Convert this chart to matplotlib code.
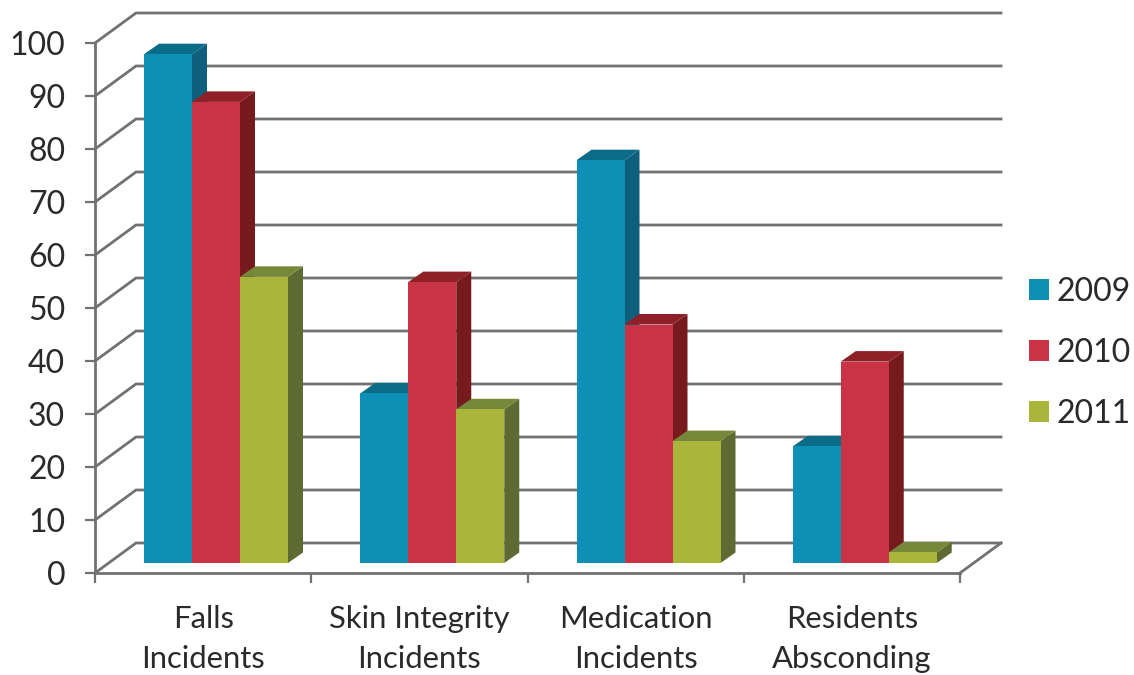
import matplotlib
matplotlib.use("Agg")
import matplotlib.pyplot as plt
from matplotlib.patches import Polygon, Patch

categories = ["Falls\nIncidents", "Skin Integrity\nIncidents", "Medication\nIncidents", "Residents\nAbsconding"]
series_names = ["2009", "2010", "2011"]
values_2009 = [96, 32, 76, 22]
values_2010 = [87, 53, 45, 38]
values_2011 = [54, 29, 23, 2]
y_ticks = list(range(0, 101, 10))

front_colors = ["#0E8FB5", "#C83345", "#AAB53C"]
top_colors = ["#0B6C88", "#8F2027", "#76883A"]
side_colors = ["#0F5F7C", "#761A1E", "#5F6A33"]
grid_color = "#717171"
text_color = "#2A2A2A"

W, H = 1134, 675
X0, X1, Y0, Y100 = 95, 960, 573, 43

plt.rcParams["font.family"] = ["Lato", "DejaVu Sans"]
fig = plt.figure(figsize=(W / 100, H / 100), dpi=100)
ax = fig.add_axes([X0 / W, 1 - Y0 / H, (X1 - X0) / W, (Y0 - Y100) / H])
ax.set_xlim(0, 4)
ax.set_ylim(0, 100)

# Pixel sizes expressed in data units for the oblique 3D projection
px_x = 4 / (X1 - X0)
px_y = 100 / (Y0 - Y100)
wall_dx, wall_dy = 41 * px_x, 30 * px_y
bar_dx, bar_dy = 15 * px_x, 10.5 * px_y
base_dx, base_dy = 49 * px_x, 10 * px_y
bar_w = 48 * px_x

# Back wall gridlines, side wall lines and floor outline
for v in y_ticks:
    ax.plot([0, wall_dx, 4 + wall_dx], [v, v + wall_dy, v + wall_dy],
            color=grid_color, lw=2.0, clip_on=False, zorder=1, solid_joinstyle="miter")
ax.plot([4, 4 + wall_dx], [0, wall_dy], color=grid_color, lw=2.0, clip_on=False, zorder=1)

# Columns drawn left to right so each front face covers its neighbour's side
series = [values_2009, values_2010, values_2011]
for c in range(len(categories)):
    for s, vals in enumerate(series):
        v = vals[c]
        x = c + base_dx + s * bar_w
        y = base_dy
        t = y + v
        ax.add_patch(Polygon([(x + bar_w, y), (x + bar_w + bar_dx, y + bar_dy),
                              (x + bar_w + bar_dx, t + bar_dy), (x + bar_w, t)],
                             fc=side_colors[s], ec="none", clip_on=False, zorder=3))
        ax.add_patch(Polygon([(x, t), (x + bar_w, t), (x + bar_w + bar_dx, t + bar_dy),
                              (x + bar_dx, t + bar_dy)],
                             fc=top_colors[s], ec="none", clip_on=False, zorder=3))
        ax.add_patch(Polygon([(x, y), (x + bar_w, y), (x + bar_w, t), (x, t)],
                             fc=front_colors[s], ec="none", clip_on=False, zorder=3))

# Front axes
for side in ("top", "right"):
    ax.spines[side].set_visible(False)
for side in ("left", "bottom"):
    ax.spines[side].set_color(grid_color)
    ax.spines[side].set_linewidth(2.0)
ax.set_yticks(y_ticks)
ax.set_xticks(range(5))
ax.set_xticks([0.5, 1.5, 2.5, 3.5], labels=categories, minor=True)
ax.set_xticklabels([])
ax.tick_params(axis="y", length=7.5, width=1.6, color=grid_color, pad=14,
               labelsize=23, labelcolor=text_color)
ax.tick_params(axis="x", which="major", length=7.5, width=1.6, color=grid_color)
ax.tick_params(axis="x", which="minor", length=0, pad=23, labelsize=22.3, labelcolor=text_color)
for label in ax.get_xticklabels(minor=True):
    label.set_linespacing(1.54)

handles = [Patch(fc=c, ec="none", label=n) for c, n in zip(front_colors, series_names)]
fig.legend(handles=handles, loc="center left", bbox_to_anchor=(1029 / W, 1 - 353 / H),
           frameon=False, fontsize=23, labelcolor=text_color, handlelength=0.63,
           handleheight=0.63, handletextpad=0.24, labelspacing=0.97, borderpad=0, borderaxespad=0)

fig.savefig("out.png", dpi=100)
